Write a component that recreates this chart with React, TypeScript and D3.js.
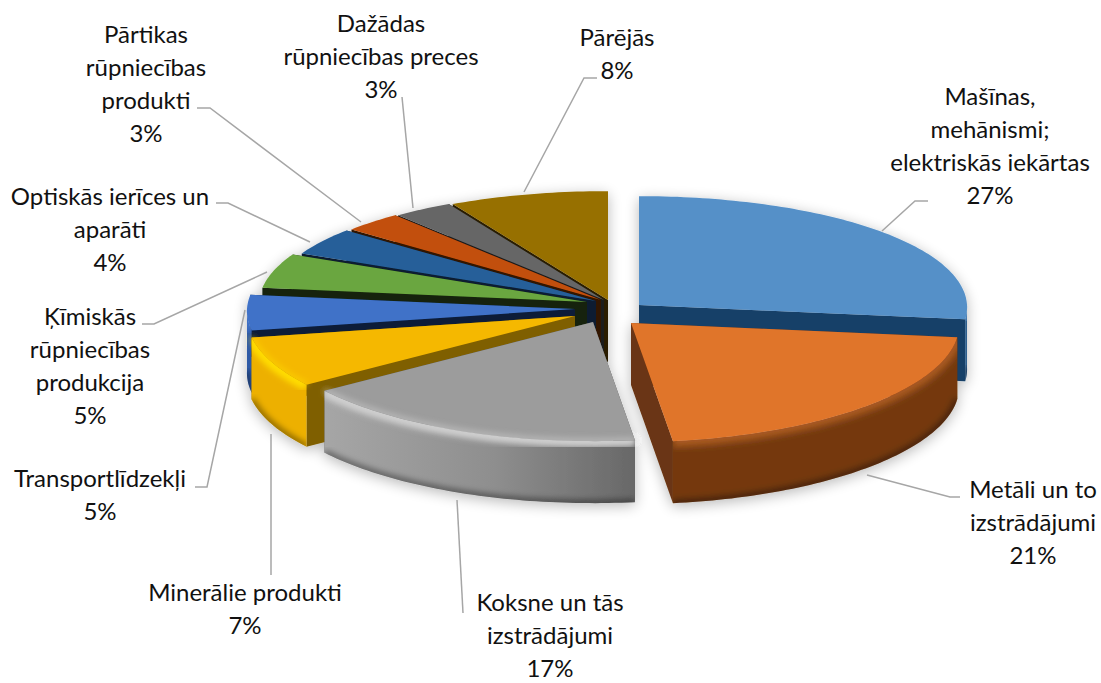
import React, { useEffect, useRef } from 'react';
import * as d3 from 'd3';

const categories = [
  ['Mašīnas,', 'mehānismi;', 'elektriskās iekārtas'],
  ['Metāli un to', 'izstrādājumi'],
  ['Koksne un tās', 'izstrādājumi'],
  ['Minerālie produkti'],
  ['Transportlīdzekļi'],
  ['Ķīmiskās', 'rūpniecības', 'produkcija'],
  ['Optiskās ierīces un', 'aparāti'],
  ['Pārtikas', 'rūpniecības', 'produkti'],
  ['Dažādas', 'rūpniecības preces'],
  ['Pārējās'],
];
const values = [27, 21, 17, 7, 5, 5, 4, 3, 3, 8];

const topColors = ['#5590c8', '#e0752c', '#9c9c9c', '#f5b800', '#3f72c8', '#6aa63f', '#265f99', '#c24f0a', '#666666', '#977000'];
const faceColors = ['#173f67', '#6a3512', '#555555', '#7f5f00', '#0c1c38', '#14240c', '#0a1e30', '#301403', '#1c1c1c', '#2a1f00'];
const wallColors = ['#2f5e8e', '#74390f', '#8c8c8c', '#edb000', '#2f5aa6', '#4f7d30', '#1c4772', '#8f3a07', '#4c4c4c', '#705300'];
const rimColors = ['#5590c8', '#a85a20', '#cfcfcf', '#ffdc00', '#3f72c8', '#6aa63f', '#265f99', '#c24f0a', '#666666', '#977000'];

// where each slice's tip sits, pulled out from the middle by hand
const sliceCenters: [number, number][] = [
  [639, 305], [631, 323], [593, 322], [575, 316], [575, 309],
  [587, 302], [596, 301], [601, 300], [604, 300], [608, 300],
];
const labelX = [990, 1033, 550, 245, 100, 90, 110, 146, 381, 617];
const labelY = [97, 490, 603, 593, 479, 317, 197, 35, 24, 38];
const leaders: [number, number][][] = [
  [[882, 231], [915, 201], [928, 201]],
  [[867, 475], [950, 497], [960, 497]],
  [[457, 500], [463, 613]],
  [[271, 434], [271, 575]],
  [[245, 310], [207, 487], [195, 487]],
  [[267, 272], [154, 324], [142, 324]],
  [[310, 242], [228, 203], [216, 203]],
  [[361, 222], [210, 108], [197, 108]],
  [[413, 208], [402, 97]],
  [[524, 192], [584, 78], [597, 78]],
];
const drawOrder = [9, 8, 7, 6, 5, 4, 0, 3, 1, 2];

const WIDTH = 1101;
const HEIGHT = 683;
const RX = 328;
const RY = 114;
const PERSP_X = 0.02;
const PERSP_Y = 0.045;
const DEPTH = 62;
const LINE_HEIGHT = 33;

function project(a: number, c: [number, number], z = 0): [number, number] {
  const u = Math.sin(a);
  const v = -Math.cos(a);
  return [c[0] + RX * u * (1 + PERSP_X * v), c[1] + RY * v * (1 + PERSP_Y * v) + z];
}

function arcPoints(a0: number, a1: number, c: [number, number], z = 0) {
  const n = Math.max(2, Math.ceil((a1 - a0) / 0.02));
  return d3.range(n + 1).map((i) => project(a0 + ((a1 - a0) * i) / n, c, z));
}

export default function App() {
  const svgRef = useRef<SVGSVGElement>(null);

  useEffect(() => {
    if (!svgRef.current) return;
    const svg = d3.select(svgRef.current);
    svg.selectAll('*').remove();
    svg.attr('width', WIDTH).attr('height', HEIGHT);

    const defs = svg.append('defs');
    const soft = defs.append('filter').attr('id', 'soft').attr('x', '-20%').attr('y', '-30%').attr('width', '140%').attr('height', '160%');
    soft.append('feGaussianBlur').attr('in', 'SourceAlpha').attr('stdDeviation', 7).attr('result', 'b');
    soft.append('feOffset').attr('in', 'b').attr('dy', 3).attr('result', 'o');
    soft.append('feComponentTransfer').attr('in', 'o').attr('result', 's').append('feFuncA').attr('type', 'linear').attr('slope', 0.28);
    soft.append('feGaussianBlur').attr('in', 'SourceGraphic').attr('stdDeviation', 0.6).attr('result', 'g');
    const merge = soft.append('feMerge');
    merge.append('feMergeNode').attr('in', 's');
    merge.append('feMergeNode').attr('in', 'g');
    defs.append('filter').attr('id', 'rimBlur').append('feGaussianBlur').attr('stdDeviation', 3);

    const greyWall = defs.append('linearGradient').attr('id', 'greyWall');
    greyWall.append('stop').attr('offset', '0%').attr('stop-color', '#a6a6a6');
    greyWall.append('stop').attr('offset', '55%').attr('stop-color', '#8e8e8e');
    greyWall.append('stop').attr('offset', '100%').attr('stop-color', '#686868');

    const line = d3.line();
    const closed = (pts: [number, number][]) => line(pts) + 'Z';
    const pie = d3.pie<number>().sort(null).value((d) => d);
    const arcs = pie(values);

    const pieG = svg.append('g').attr('filter', 'url(#soft)');

    drawOrder.forEach((i) => {
      const { startAngle: a0, endAngle: a1 } = arcs[i];
      const c = sliceCenters[i];
      const g = pieG.append('g');

      const face = (a: number) => {
        const rim = project(a, c);
        const rimLow = project(a, c, DEPTH);
        return closed([c, rim, rimLow, [c[0], c[1] + DEPTH]]);
      };
      // the face turned away from the viewer goes down first
      const faces = [a0, a1].sort((p, q) => {
        const vis = (a: number) => (a === a0 ? -Math.sin(a) : Math.sin(a));
        return vis(p) - vis(q);
      });
      faces.forEach((a) => g.append('path').attr('d', face(a)).attr('fill', faceColors[i]));

      const w0 = Math.max(a0, Math.PI / 2);
      const w1 = Math.min(a1, (3 * Math.PI) / 2);
      if (w1 > w0) {
        const upper = arcPoints(w0, w1, c);
        const lower = arcPoints(w0, w1, c, DEPTH);
        const wallPath = closed([...upper, ...lower.slice().reverse()]);
        g.append('path')
          .attr('d', wallPath)
          .attr('fill', i === 2 ? 'url(#greyWall)' : wallColors[i]);
        const clipId = `wall-${i}`;
        defs.append('clipPath').attr('id', clipId).append('path').attr('d', wallPath);
        const clipped = g.append('g').attr('clip-path', `url(#${clipId})`);
        clipped
          .append('path')
          .attr('d', line(upper))
          .attr('fill', 'none')
          .attr('stroke', rimColors[i])
          .attr('stroke-width', 12)
          .attr('filter', 'url(#rimBlur)');
        clipped
          .append('path')
          .attr('d', line(lower))
          .attr('fill', 'none')
          .attr('stroke', '#000')
          .attr('stroke-opacity', 0.45)
          .attr('stroke-width', 6)
          .attr('filter', 'url(#rimBlur)');
      }

      g.append('path')
        .attr('d', closed([c, ...arcPoints(a0, a1, c)]))
        .attr('fill', topColors[i]);
      if (w1 > w0 && (i === 2 || i === 3)) {
        g.append('path')
          .attr('d', line(arcPoints(w0, w1, c)))
          .attr('fill', 'none')
          .attr('stroke', rimColors[i])
          .attr('stroke-width', 3)
          .attr('filter', 'url(#rimBlur)');
      }
    });

    svg
      .append('g')
      .selectAll('path')
      .data(leaders)
      .join('path')
      .attr('d', (d) => line(d))
      .attr('fill', 'none')
      .attr('stroke', '#a6a6a6')
      .attr('stroke-width', 1.5);

    const labels = svg
      .append('g')
      .attr('font-family', 'Lato, "Open Sans", sans-serif')
      .attr('font-size', 24)
      .attr('fill', '#111')
      .attr('text-anchor', 'middle');

    categories.forEach((lines, i) => {
      [...lines, `${values[i]}%`].forEach((t, k) => {
        labels
          .append('text')
          .attr('x', labelX[i])
          .attr('y', labelY[i] + k * LINE_HEIGHT)
          .attr('dy', '0.35em')
          .text(t);
      });
    });
  }, []);

  return <svg ref={svgRef} style={{ position: 'absolute', left: 0, top: 0 }} />;
}
